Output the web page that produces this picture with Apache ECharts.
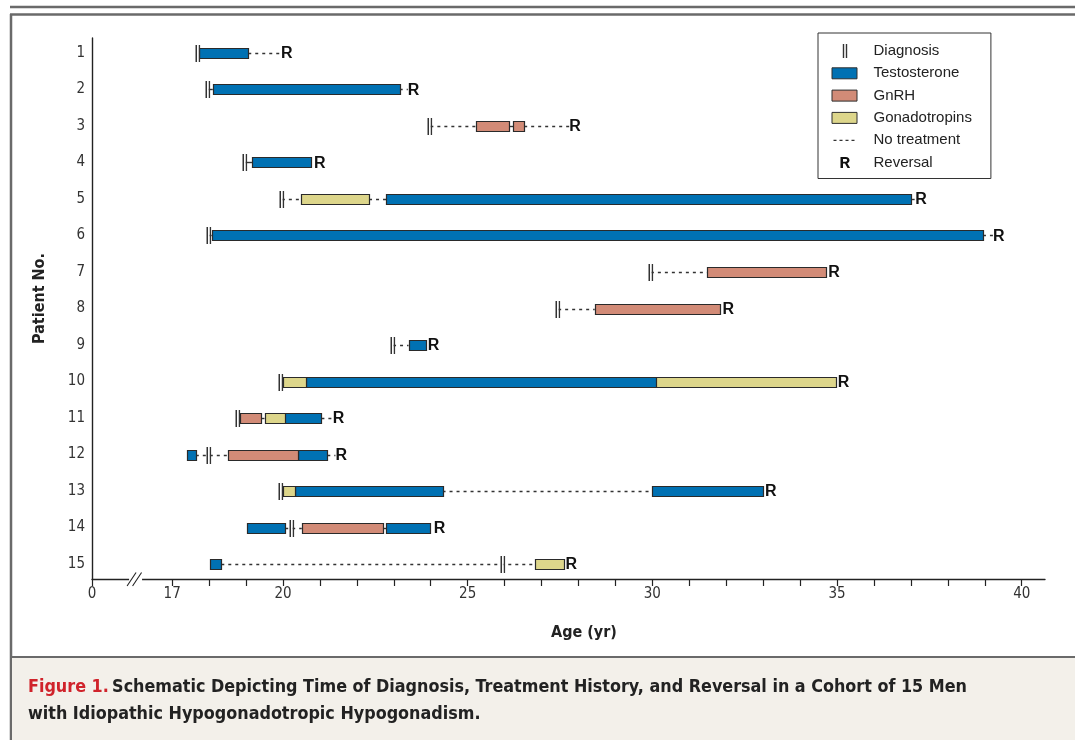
<!DOCTYPE html>
<html><head><meta charset="utf-8">
<script src="https://cdn.jsdelivr.net/npm/echarts@6/dist/echarts.min.js"></script>
<style>html,body{margin:0;padding:0;background:#fff}#c{width:1075px;height:740px}</style>
</head><body><div id="c"></div>
<script>
// ---------------- data ----------------
const patients = [1, 2, 3, 4, 5, 6, 7, 8, 9, 10, 11, 12, 13, 14, 15];
const diagnosisAge = [17.70, 17.98, 23.99, 18.98, 19.97, 17.99, 29.96, 27.45, 22.98, 19.94, 18.77, 17.99, 19.94, 20.25, 25.96];
const reversalAge  = [19.95, 23.38, 27.75, 20.84, 37.12, 39.22, 34.76, 31.90, 23.92, 35.02, 21.35, 21.42, 33.05, 24.08, 27.65];
// [patient, startAge, endAge]
const testosterone = [
  [1, 17.74, 19.06], [2, 18.10, 23.16], [4, 19.16, 20.77], [5, 22.80, 37.02],
  [6, 18.07, 38.95], [9, 23.40, 23.86], [10, 20.61, 30.11], [11, 20.03, 21.04],
  [12, 17.40, 17.64], [12, 20.41, 21.20], [13, 20.32, 24.32], [13, 30.00, 33.00],
  [14, 19.03, 20.06], [14, 22.80, 24.00], [15, 18.03, 18.33]
];
const gnrh = [
  [3, 25.22, 26.12], [3, 26.23, 26.53], [7, 31.49, 34.70], [8, 28.44, 31.83],
  [11, 18.83, 19.41], [12, 18.51, 20.41], [14, 20.51, 22.69]
];
const gonadotropins = [
  [5, 20.50, 22.33], [10, 20.00, 20.61], [10, 30.11, 34.97], [11, 19.50, 20.03],
  [13, 20.00, 20.32], [15, 26.81, 27.60]
];
const noTreatment = [
  [1, 19.06, 19.95], [2, 23.16, 23.38], [3, 23.99, 25.22], [3, 26.53, 27.75],
  [5, 19.97, 20.50], [5, 22.33, 22.80], [5, 37.02, 37.12], [6, 38.95, 39.22],
  [7, 29.96, 31.49], [8, 27.45, 28.44], [9, 22.98, 23.40], [11, 21.04, 21.35],
  [12, 17.64, 18.51], [12, 21.20, 21.42], [13, 24.32, 30.00], [14, 20.06, 20.51],
  [15, 18.33, 26.81]
];
const connectors = [
  [3, 26.12, 26.23], [11, 19.41, 19.50], [14, 22.69, 22.80],
  [2, 17.98, 18.10], [6, 17.99, 18.07], [4, 18.98, 19.16]
];
const xTickValues = [17, 18, 19, 20, 21, 22, 23, 24, 25, 26, 27, 28, 29, 30, 31, 32, 33, 34, 35, 36, 37, 38, 39, 40];
const xLabelValues = [17, 20, 25, 30, 35, 40];
const axisStartAge = 14.83;   // position of the "0" origin (broken axis)
const axisEndAge = 40.63;
const axisBreakAge = [16.05];
const captionLabel = 'Figure 1.';
const captionLine1 = 'Schematic Depicting Time of Diagnosis, Treatment History, and Reversal in a Cohort of 15 Men';
const captionLine2 = 'with Idiopathic Hypogonadotropic Hypogonadism.';

// ---------------- styles ----------------
const COLORS = { testosterone: '#0071b3', gnrh: '#d28b77', gonadotropins: '#ddd68b' };
const NARROW = '"Liberation Sans Narrow", "DejaVu Sans Condensed", "Open Sans", sans-serif';
const ARIAL = '"Liberation Sans", Arial, sans-serif';
const BAR_H = 10;

function barSeries(name, data, color) {
  return {
    name, type: 'custom', color, z: 3,
    data,
    renderItem(params, api) {
      const p = api.value(0), s = api.value(1), e = api.value(2);
      const a = api.coord([s, p]), b = api.coord([e, p]);
      return {
        type: 'rect',
        shape: { x: Math.round(a[0]) + 0.5, y: Math.round(a[1] - BAR_H / 2) + 0.5, width: Math.round(b[0] - a[0]), height: BAR_H },
        style: { fill: color, stroke: '#2a2a2a', lineWidth: 1.2 }
      };
    }
  };
}
function lineSeries(name, data, dash, z) {
  return {
    name, type: 'custom', color: '#333', z,
    data,
    renderItem(params, api) {
      const p = api.value(0), s = api.value(1), e = api.value(2);
      const a = api.coord([s, p]), b = api.coord([e, p]);
      const y = Math.round(a[1]) + 0.5;
      return {
        type: 'line',
        shape: { x1: a[0], y1: y, x2: b[0], y2: y },
        style: { stroke: '#333', lineWidth: 1.4, lineDash: dash }
      };
    }
  };
}

const BOX = 'M0,0 M26,14 ';
const legendIcons = {
  'Diagnosis': 'path://' + BOX + 'M11.3,0 L12.7,0 L12.7,14 L11.3,14 Z M14.3,0 L15.7,0 L15.7,14 L14.3,14 Z',
  'Testosterone': 'path://' + BOX + 'M0.5,1.5 L25.5,1.5 L25.5,12.5 L0.5,12.5 Z',
  'GnRH': 'path://' + BOX + 'M0.5,1.5 L25.5,1.5 L25.5,12.5 L0.5,12.5 Z',
  'Gonadotropins': 'path://' + BOX + 'M0.5,1.5 L25.5,1.5 L25.5,12.5 L0.5,12.5 Z',
  'No treatment': 'path://' + BOX + 'M2,6.5 L5,6.5 L5,7.7 L2,7.7 Z M8,6.5 L11,6.5 L11,7.7 L8,7.7 Z M14,6.5 L17,6.5 L17,7.7 L14,7.7 Z M20,6.5 L23,6.5 L23,7.7 L20,7.7 Z',
  'Reversal': 'path://' + BOX + 'M9,1.5 L14.3,1.5 C16.8,1.5 18,2.9 18,4.8 C18,6.3 17.1,7.3 15.8,7.7 L18.6,12.5 L16,12.5 L13.5,8.1 L11.5,8.1 L11.5,12.5 L9,12.5 Z M11.5,3.4 L11.5,6.3 L14,6.3 C15,6.3 15.6,5.8 15.6,4.85 C15.6,3.9 15,3.4 14,3.4 Z'
};
const legendNames = ['Diagnosis', 'Testosterone', 'GnRH', 'Gonadotropins', 'No treatment', 'Reversal'];

const chart = echarts.init(document.getElementById('c'), null, { renderer: 'canvas' });

const option = {
  backgroundColor: '#ffffff',
  animation: false,
  grid: { left: 92, right: 30, top: 38, bottom: 161 },
  xAxis: {
    type: 'value', min: axisStartAge, max: axisEndAge,
    name: 'Age (yr)', nameLocation: 'middle', nameGap: 46,
    nameTextStyle: { fontFamily: NARROW, fontWeight: 'bold', fontSize: 16, color: '#222', padding: [0, 0, 0, 31] },
    axisLine: { show: true, onZero: false, lineStyle: { color: '#222', width: 1.4 } },
    axisTick: { show: true, inside: false, length: 7, customValues: [axisStartAge].concat(xTickValues), lineStyle: { color: '#222', width: 1.2 } },
    axisLabel: {
      customValues: [axisStartAge].concat(xLabelValues),
      formatter: v => (v < 16 ? '0' : String(v)),
      fontFamily: NARROW, fontSize: 15, color: '#333', margin: 8
    },
    splitLine: { show: false }
  },
  yAxis: {
    type: 'value', inverse: true, min: 0.59, max: 15.41,
    name: 'Patient No.', nameLocation: 'middle', nameGap: 44, nameRotate: 90,
    nameTextStyle: { fontFamily: NARROW, fontWeight: 'bold', fontSize: 16, color: '#222', padding: [0, 0, 0, 20] },
    axisLine: { show: true, onZero: false, lineStyle: { color: '#222', width: 1.4 } },
    axisTick: { show: false },
    axisLabel: { customValues: patients, fontFamily: NARROW, fontSize: 15, color: '#333', margin: 7 },
    splitLine: { show: false }
  },
  legend: {
    orient: 'vertical', left: 818, top: 33,
    padding: [10, 19, 8, 13],
    borderColor: '#333', borderWidth: 1,
    itemWidth: 26, itemHeight: 14, itemGap: 6.3,
    selectedMode: false,
    textStyle: { fontFamily: ARIAL, fontSize: 15, color: '#222', padding: [0, 0, 0, 11], lineHeight: 16 },
    data: legendNames.map(n => ({
      name: n, icon: legendIcons[n],
      itemStyle: (n === 'Testosterone' || n === 'GnRH' || n === 'Gonadotropins')
        ? { borderColor: '#2e2e2e', borderWidth: 1 } : { borderWidth: 0 }
    }))
  },
  series: [
    lineSeries('No treatment', noTreatment, [3, 4], 1),
    lineSeries('connector', connectors, null, 1),
    barSeries('Testosterone', testosterone, COLORS.testosterone),
    barSeries('GnRH', gnrh, COLORS.gnrh),
    barSeries('Gonadotropins', gonadotropins, COLORS.gonadotropins),
    {
      name: 'Diagnosis', type: 'custom', color: '#333', z: 4,
      data: patients.map((p, i) => [p, diagnosisAge[i]]),
      renderItem(params, api) {
        const c = api.coord([api.value(1), api.value(0)]);
        const x = Math.round(c[0]), y = Math.round(c[1]);
        return {
          type: 'group',
          children: [
            { type: 'rect', shape: { x: x - 2.5, y: y - 8, width: 1.6, height: 17 }, style: { fill: '#333' } },
            { type: 'rect', shape: { x: x + 0.5, y: y - 8, width: 1.6, height: 17 }, style: { fill: '#333' } },
            { type: 'rect', shape: { x: x - 0.9, y: y - 8, width: 1.4, height: 17 }, style: { fill: '#ffffff' } }
          ]
        };
      }
    },
    {
      name: 'Reversal', type: 'custom', color: '#111', z: 5,
      data: patients.map((p, i) => [p, reversalAge[i]]),
      renderItem(params, api) {
        const c = api.coord([api.value(1), api.value(0)]);
        return {
          type: 'text',
          x: c[0], y: c[1] + 1,
          style: { text: 'R', font: 'bold 16px ' + ARIAL, fill: '#111', align: 'left', verticalAlign: 'middle' }
        };
      }
    },
    {
      name: 'axisBreak', type: 'custom', z: 6, silent: true,
      data: axisBreakAge.map(v => [v]),
      renderItem(params, api) {
        const c = api.coord([api.value(0), 15.41]);
        const x = c[0], y = c[1];
        return {
          type: 'group',
          children: [
            { type: 'rect', shape: { x: x - 8, y: y - 2, width: 13, height: 4 }, style: { fill: '#fff' } },
            { type: 'line', shape: { x1: x - 10, y1: y + 7, x2: x - 1, y2: y - 6.5 }, style: { stroke: '#222', lineWidth: 1.1 } },
            { type: 'line', shape: { x1: x - 4.5, y1: y + 7, x2: x + 4.5, y2: y - 6.5 }, style: { stroke: '#222', lineWidth: 1.1 } }
          ]
        };
      }
    }
  ],
  graphic: [
    { type: 'line', shape: { x1: 10, y1: 7, x2: 1075, y2: 7 }, style: { stroke: '#6a6a6a', lineWidth: 2.5 } },
    { type: 'line', shape: { x1: 10, y1: 14.5, x2: 1075, y2: 14.5 }, style: { stroke: '#6a6a6a', lineWidth: 2.5 } },
    { type: 'line', shape: { x1: 11, y1: 14, x2: 11, y2: 740 }, style: { stroke: '#6a6a6a', lineWidth: 2.5 } },
    { type: 'rect', shape: { x: 12, y: 657, width: 1063, height: 83 }, style: { fill: '#f3f0ea' } },
    { type: 'line', shape: { x1: 11, y1: 657, x2: 1075, y2: 657 }, style: { stroke: '#6a6a6a', lineWidth: 2 } },
    {
      type: 'text', x: 28, y: 674,
      style: {
        text: '{r|' + captionLabel + '} {b|' + captionLine1 + '}\n{b|' + captionLine2 + '}',
        rich: {
          r: { fontFamily: NARROW, fontWeight: 'bold', fontSize: 17.8, fill: '#d0232b', lineHeight: 27 },
          b: { fontFamily: NARROW, fontWeight: 'bold', fontSize: 17.8, fill: '#222', lineHeight: 27 }
        }
      }
    }
  ]
};
chart.setOption(option);
</script>
</body></html>
